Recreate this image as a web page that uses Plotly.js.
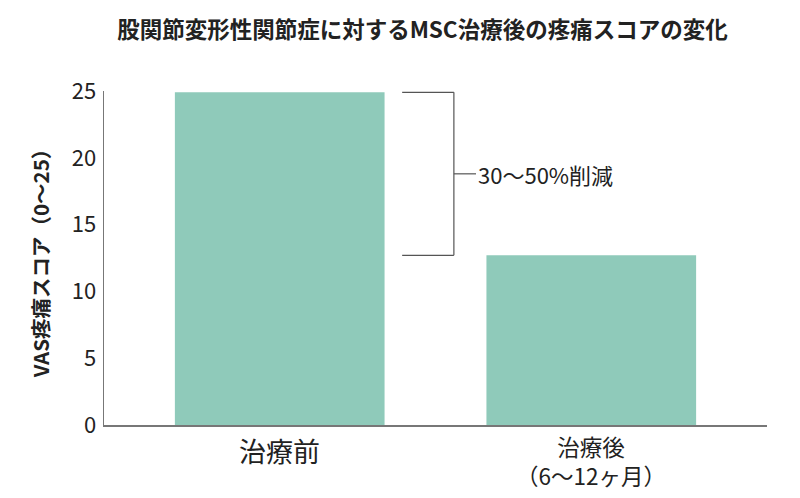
<!DOCTYPE html>
<html><head><meta charset="utf-8">
<script src="https://cdn.plot.ly/plotly-3.0.1.min.js"></script>
<style>html,body{margin:0;padding:0;background:#fff}#chart{width:800px;height:498px}</style>
</head><body><div id="chart"></div>
<script>
const categories = ["治療前", "治療後<br>（6〜12ヶ月）"];
const painScores = [24.9, 12.7];
const yTicks = [0, 5, 10, 15, 20, 25];
const reductionLabel = "30〜50%削減";

const FONT = '"Noto Sans CJK JP", "Noto Sans", sans-serif';
const barColor = '#8FCABA';
const lineColor = '#555555';

const trace = {
  type: 'bar', x: [0, 1], y: painScores,
  width: 0.673, marker: {color: barColor, line: {width: 0}},
  hoverinfo: 'skip'
};

const bx0 = 0.393, bx1 = 0.559, bx2 = 0.630;
const yHi = painScores[0], yLo = painScores[1], yMid = (yHi + yLo) / 2;

const layout = {
  width: 800, height: 498,
  margin: {l: 104, r: 33, t: 91, b: 73},
  paper_bgcolor: '#fff', plot_bgcolor: '#fff',
  showlegend: false,
  title: {text: '<b>股関節変形性関節症に対するMSC治療後の疼痛スコアの変化</b>',
          font: {family: FONT, size: 22.5, color: '#222'}, x: 0.528, xanchor: 'center', y: 0.94, yanchor: 'middle'},
  xaxis: {range: [-0.564, 1.564], tickmode: 'array', tickvals: [0, 1], ticktext: ['', ''],
          showgrid: false, zeroline: false, showline: true, linecolor: '#777', linewidth: 1.5,
          ticks: '', fixedrange: true},
  yaxis: {range: [0, 25], tickmode: 'array', tickvals: yTicks, ticktext: yTicks.map(String),
          showgrid: false, zeroline: false, showline: true, linecolor: '#777', linewidth: 1.5,
          ticks: '', ticklabelstandoff: 2,
          tickfont: {family: FONT, size: 22, color: '#222'},
          title: {text: '<b>VAS疼痛スコア（0〜25）</b>', font: {family: FONT, size: 20.5, color: '#222'}, standoff: 16}},
  shapes: [
    {type: 'line', xref: 'x', yref: 'y', x0: bx0, x1: bx1, y0: yHi, y1: yHi, line: {color: lineColor, width: 1.2}},
    {type: 'line', xref: 'x', yref: 'y', x0: bx0, x1: bx1, y0: yLo, y1: yLo, line: {color: lineColor, width: 1.2}},
    {type: 'line', xref: 'x', yref: 'y', x0: bx1, x1: bx1, y0: yLo, y1: yHi, line: {color: lineColor, width: 1.2}},
    {type: 'line', xref: 'x', yref: 'y', x0: bx1, x1: bx2, y0: yMid, y1: yMid, line: {color: lineColor, width: 1.2}}
  ],
  annotations: [
    {xref: 'x', yref: 'y', x: bx2, y: yMid, xanchor: 'left', yanchor: 'middle', showarrow: false,
     text: reductionLabel, xshift: 0, font: {family: FONT, size: 22, color: '#222'}},
    {xref: 'x', yref: 'paper', x: 0, y: 0, yshift: -4, xanchor: 'center', yanchor: 'top', showarrow: false,
     text: categories[0], font: {family: FONT, size: 27, color: '#222'}},
    {xref: 'x', yref: 'paper', x: 1, y: 0, yshift: -3, xanchor: 'center', yanchor: 'top', showarrow: false,
     text: categories[1], font: {family: FONT, size: 22.5, color: '#222'}}
  ]
};

Plotly.newPlot('chart', [trace], layout, {displayModeBar: false, staticPlot: true});
</script></body></html>
